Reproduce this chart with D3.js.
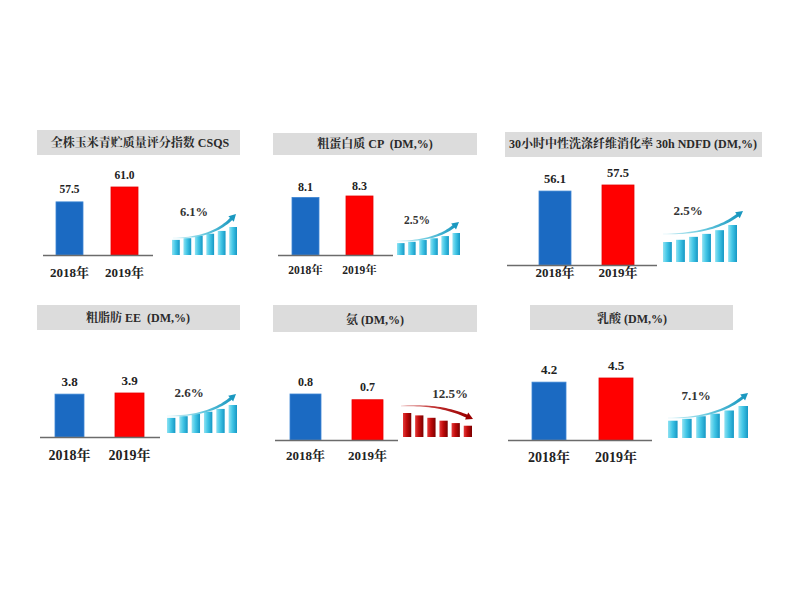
<!DOCTYPE html>
<html>
<head>
<meta charset="utf-8">
<script src="https://cdn.jsdelivr.net/npm/d3@7"></script>
<style>
html,body{margin:0;padding:0;background:#fff;}
svg{display:block;}
</style>
</head>
<body>
<svg id="chart" width="800" height="600"></svg>
<script>
// ---------------- data ----------------
const titles = [
  "全株玉米青贮质量评分指数 CSQS",
  "粗蛋白质 CP  (DM,%)",
  "30小时中性洗涤纤维消化率 30h NDFD (DM,%)",
  "粗脂肪 EE  (DM,%)",
  "氨 (DM,%)",
  "乳酸 (DM,%)"
];
const years = ["2018年", "2019年"];
const values2018 = [57.5, 8.1, 56.1, 3.8, 0.8, 4.2];
const values2019 = [61.0, 8.3, 57.5, 3.9, 0.7, 4.5];
const valueLabels2018 = ["57.5", "8.1", "56.1", "3.8", "0.8", "4.2"];
const valueLabels2019 = ["61.0", "8.3", "57.5", "3.9", "0.7", "4.5"];
const changeLabels = ["6.1%", "2.5%", "2.5%", "2.6%", "12.5%", "7.1%"];
const trends = ["up", "up", "up", "up", "down", "up"];
const domainMin = [45, 0, 39, 0, 0, 0];
const iconUp = [0.54, 0.60, 0.68, 0.76, 0.86, 1.0];
const iconDown = [1.0, 0.90, 0.80, 0.68, 0.58, 0.47];

// ---------------- layout (positions / sizes) ----------------
const layout = [
  {box:[37,130,240,155], tc:[140,143], base:255, axis:[43,153], bars:[56,138], barW:27, maxTop:187, valFs:11.5, yearFs:13, yearY:272,
   icon:{x0:172,x1:237,bottom:255,top:227,start:[173,238],tip:[236,214],label:[194,212],fs:12.5}},
  {box:[273,133,477,155], tc:[375,144], base:255, axis:[278,393], bars:[292,373], barW:27, maxTop:196, valFs:12, yearFs:11.5, yearY:270,
   icon:{x0:397,x1:460,bottom:255,top:233,start:[397,241],tip:[459,222],label:[417,220],fs:11.5}},
  {box:[505,132,762,157], tc:[633,144], base:265, axis:[507,657], bars:[539,634], barW:32, maxTop:185, valFs:12.5, yearFs:13, yearY:272,
   icon:{x0:663,x1:737,bottom:262,top:225,start:[663,234],tip:[743,211],label:[688,210],fs:13}},
  {box:[37,305,240,330], tc:[138,318], base:437, axis:[40,160], bars:[55,144], barW:29, maxTop:393, valFs:13, yearFs:14, yearY:455,
   icon:{x0:167,x1:237,bottom:433,top:405,start:[167,416],tip:[236,394],label:[189,392],fs:13}},
  {box:[273,305,477,332], tc:[375,320], base:440, axis:[275,398], bars:[290,383], barW:31, maxTop:394, valFs:12, yearFs:13, yearY:455,
   icon:{x0:403,x1:472,bottom:437,top:413,start:[401,406],tip:[473,419],label:[450,393],fs:13}},
  {box:[530,305,733,330], tc:[632,319], base:440, axis:[508,652], bars:[532,633], barW:34, maxTop:378, valFs:13, yearFs:14, yearY:457,
   icon:{x0:668,x1:748,bottom:438,top:406,start:[668,418],tip:[748,393],label:[696,395],fs:13}}
];

const FONT = "'Liberation Serif','Times New Roman','Noto Serif CJK SC','Noto Sans CJK SC',serif";
const svg = d3.select("#chart");
svg.append("rect").attr("width",800).attr("height",600).attr("fill","#fff");

// gradients
const defs = svg.append("defs");
function hGrad(id, stops){
  const g = defs.append("linearGradient").attr("id",id).attr("x1","0").attr("x2","1").attr("y1","0").attr("y2","0");
  stops.forEach(s=>g.append("stop").attr("offset",s[0]).attr("stop-color",s[1]).attr("stop-opacity", s[2]==null?1:s[2]));
}
hGrad("cyanBar", [[0,"#8fe2f2"],[0.45,"#42c6e6"],[1,"#1597c4"]]);
hGrad("redBar", [[0,"#e43a3a"],[0.45,"#c00a0a"],[1,"#7a0000"]]);
hGrad("cyanArrow", [[0,"#d8f2f7"],[0.5,"#6ccbe0"],[1,"#1a98c0"]]);
hGrad("redArrow", [[0,"#e8b0b0"],[0.5,"#c03030"],[1,"#9a0000"]]);

function drawArrow(g, ic, down){
  const [x0,y0] = ic.start, [x1,y1] = ic.tip;
  const dx = x1-x0, dy = Math.abs(y1-y0);
  const C = down ? [x0+0.55*dx, y0-0.15*dy] : [x0+0.62*dx, y0+0.02*dy];
  let ux = x1-C[0], uy = y1-C[1];
  const ul = Math.hypot(ux,uy); ux/=ul; uy/=ul;
  const headL = 7, headW = 3.8;
  const E = [x1-ux*(headL-1), y1-uy*(headL-1)];
  const N = 24, up = [], lo = [];
  for(let i=0;i<=N;i++){
    const t=i/N;
    const px=(1-t)*(1-t)*x0+2*t*(1-t)*C[0]+t*t*E[0];
    const py=(1-t)*(1-t)*y0+2*t*(1-t)*C[1]+t*t*E[1];
    let tx=2*(1-t)*(C[0]-x0)+2*t*(E[0]-C[0]);
    let ty=2*(1-t)*(C[1]-y0)+2*t*(E[1]-C[1]);
    const tl=Math.hypot(tx,ty); tx/=tl; ty/=tl;
    const w=0.3+1.3*t;
    up.push([px-ty*w, py+tx*w]);
    lo.push([px+ty*w, py-tx*w]);
  }
  const pts = up.concat(lo.reverse());
  const fill = down ? "url(#redArrow)" : "url(#cyanArrow)";
  g.append("path").attr("d", d3.line()(pts)+"Z").attr("fill", fill);
  const bx=x1-ux*headL, by=y1-uy*headL;
  g.append("path")
    .attr("d", d3.line()([[x1,y1],[bx-uy*headW, by+ux*headW],[bx+uy*headW, by-ux*headW]])+"Z")
    .attr("fill", down ? "#9a0000" : "#1a98c0");
}

titles.forEach((title, i) => {
  const L = layout[i];
  const g = svg.append("g");
  // title box
  g.append("rect").attr("x",L.box[0]).attr("y",L.box[1])
    .attr("width",L.box[2]-L.box[0]).attr("height",L.box[3]-L.box[1]).attr("fill","#dcdcdc");
  g.append("text").attr("x",L.tc[0]).attr("y",L.tc[1]).attr("text-anchor","middle")
    .attr("dominant-baseline","central").attr("font-family",FONT).attr("font-weight","bold")
    .attr("font-size",12).attr("fill","#2a2a2a").attr("xml:space","preserve").text(title);

  // scales
  const pad = 1 - L.barW/((L.bars[1]-L.bars[0]) - L.barW);
  const x = d3.scaleBand().domain(years).range(L.bars).paddingInner(pad).paddingOuter(0);
  const vmax = Math.max(values2018[i], values2019[i]);
  const y = d3.scaleLinear().domain([domainMin[i], vmax]).range([L.base, L.maxTop]);
  const vals = [values2018[i], values2019[i]];
  const labs = [valueLabels2018[i], valueLabels2019[i]];
  const colors = ["#1b6ac2", "#ff0000"];
  const strokes = ["#3d86d4", "#e60000"];

  g.selectAll(".bar").data(years).join("rect")
    .attr("x", d=>x(d)).attr("width", x.bandwidth())
    .attr("y", (d,j)=>y(vals[j])).attr("height",(d,j)=>L.base-y(vals[j]))
    .attr("fill",(d,j)=>colors[j]).attr("stroke",(d,j)=>strokes[j]).attr("stroke-width",0.8);

  // axis line
  g.append("line").attr("x1",L.axis[0]).attr("x2",L.axis[1]).attr("y1",L.base+0.5).attr("y2",L.base+0.5)
    .attr("stroke","#6b6b6b").attr("stroke-width",1.6);

  // value labels
  g.selectAll(".val").data(years).join("text")
    .attr("x", d=>x(d)+x.bandwidth()/2).attr("y",(d,j)=>y(vals[j]) - (i===1?10:12.5))
    .attr("text-anchor","middle").attr("dominant-baseline","central")
    .attr("font-family",FONT).attr("font-weight","bold").attr("font-size",L.valFs).attr("fill","#222")
    .text((d,j)=>labs[j]);

  // year labels
  g.selectAll(".yr").data(years).join("text")
    .attr("x", d=>x(d)+x.bandwidth()/2).attr("y",L.yearY)
    .attr("text-anchor","middle").attr("dominant-baseline","central")
    .attr("font-family",FONT).attr("font-weight","bold").attr("font-size",L.yearFs).attr("fill","#222")
    .text(d=>d);

  // trend icon
  const ic = L.icon;
  const down = trends[i] === "down";
  const h = down ? iconDown : iconUp;
  const ix = d3.scaleBand().domain(d3.range(h.length)).range([ic.x0, ic.x1]).paddingInner(0.32);
  const iy = d3.scaleLinear().domain([0,1]).range([ic.bottom, ic.top]);
  g.selectAll(".ib").data(h).join("rect")
    .attr("x",(d,j)=>ix(j)).attr("width",ix.bandwidth())
    .attr("y",d=>iy(d)).attr("height",d=>ic.bottom-iy(d))
    .attr("fill", down ? "url(#redBar)" : "url(#cyanBar)");
  drawArrow(g, ic, down);
  g.append("text").attr("x",ic.label[0]).attr("y",ic.label[1]).attr("text-anchor","middle")
    .attr("dominant-baseline","central").attr("font-family",FONT).attr("font-weight","bold")
    .attr("font-size",ic.fs).attr("fill","#333").text(changeLabels[i]);
});
</script>
</body>
</html>
